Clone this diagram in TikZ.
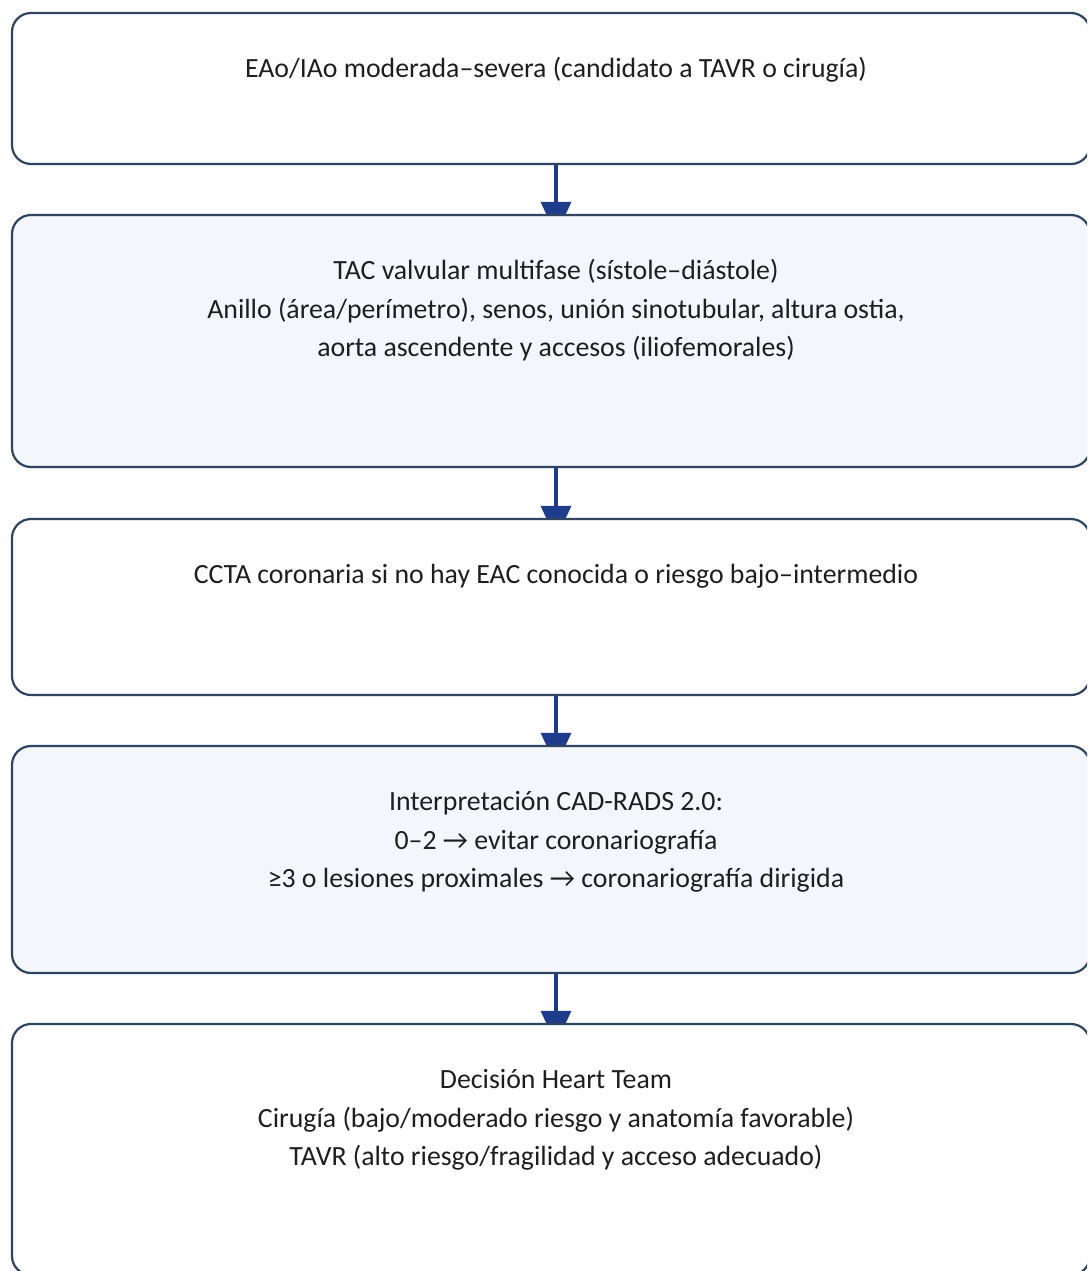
\documentclass[tikz,border=0pt]{standalone}
\usepackage{fontspec}
\setmainfont{Carlito}
\usetikzlibrary{arrows.meta,backgrounds}
\definecolor{boxline}{HTML}{2E4460}
\definecolor{boxfill}{HTML}{F3F6FB}
\definecolor{arrblue}{HTML}{1F3C8C}
\definecolor{txtc}{HTML}{1E1E1E}
\begin{document}
\begin{tikzpicture}[x=1pt,y=-1pt,
  box/.style={draw=boxline, line width=2.2pt, rounded corners=19pt, minimum width=1078pt, inner sep=0pt},
  plain/.style={box, fill=white},
  tint/.style={box, fill=boxfill},
  txt/.style={anchor=north, inner sep=0pt, align=center, text=txtc, font=\fontsize{27.8}{38.5}\selectfont},
  arr/.style={draw=arrblue, line width=3.5pt, -{Triangle[width=30pt,length=33pt]}, shorten >=-21pt}
]
\useasboundingbox (0,0) rectangle (1087,1271);
\clip (0,0) rectangle (1087,1271);
% boxes
\node[plain, minimum height=151pt] (b1) at (551,88.5) {};
\node[tint,  minimum height=252pt] (b2) at (551,341) {};
\node[plain, minimum height=176pt] (b3) at (551,607) {};
\node[tint,  minimum height=227pt] (b4) at (551,859.5) {};
\node[plain, minimum height=251pt] (b5) at (551,1149.5) {};
% texts
\node[txt] (t1) at (556,50.5) {\strut EAo/IAo moderada–severa (candidato a TAVR o cirugía)};
\node[txt] (t2) at (556,252.5) {\strut TAC valvular multifase (sístole–diástole)\\Anillo (área/perímetro), senos, unión sinotubular, altura ostia,\\aorta ascendente y accesos (iliofemorales)};
\node[txt] (t3) at (556,556.5) {\strut CCTA coronaria si no hay EAC conocida o riesgo bajo–intermedio};
\node[txt] (t4) at (556,783.5) {\strut Interpretación CAD-RADS 2.0:\\0–2 → evitar coronariografía\\≥3 o lesiones proximales → coronariografía dirigida};
\node[txt] (t5) at (556,1061.5) {\strut Decisión Heart Team\\Cirugía (bajo/moderado riesgo y anatomía favorable)\\TAVR (alto riesgo/fragilidad y acceso adecuado)};
% connectors
\begin{scope}[on background layer]
\draw[arr] (b1.south -| t1) -- (b2.north -| t1);
\draw[arr] (b2.south -| t1) -- (b3.north -| t1);
\draw[arr] (b3.south -| t1) -- (b4.north -| t1);
\draw[arr] (b4.south -| t1) -- (b5.north -| t1);
\end{scope}
\end{tikzpicture}
\end{document}
